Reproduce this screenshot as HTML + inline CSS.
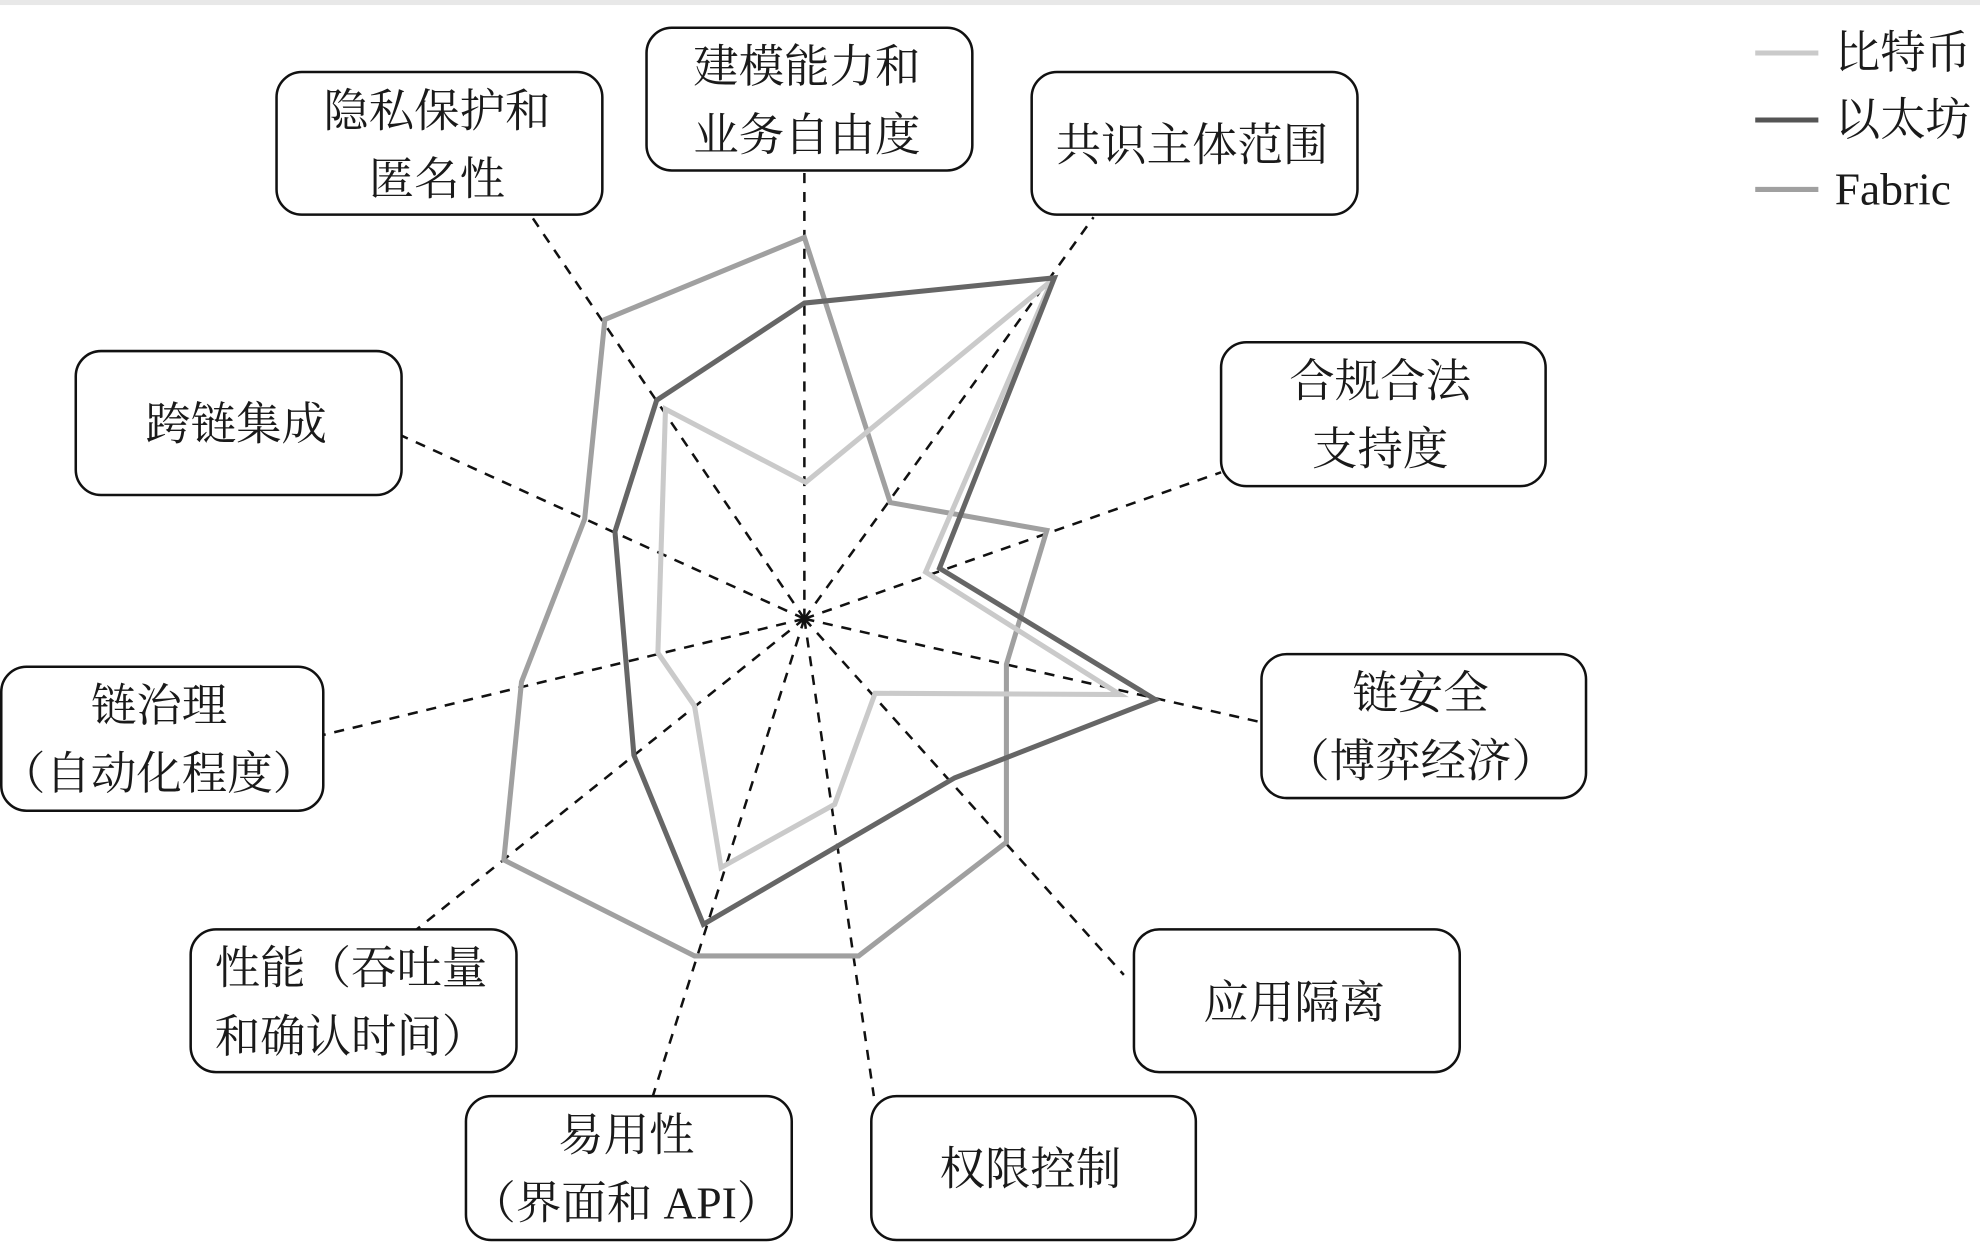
<!DOCTYPE html>
<html><head><meta charset="utf-8"><style>
html,body{margin:0;padding:0;background:#fff;}
svg{display:block;}
text{font-family:"Liberation Serif","Noto Serif CJK SC","Noto Sans CJK SC",serif;font-size:36px;fill:#1a1a1a;text-anchor:middle;}
</style></head><body>
<svg width="1980" height="1248" viewBox="0 0 1568 988.3" preserveAspectRatio="none">
<rect x="0" y="0" width="1568" height="4" fill="#e8e8e8"/>
<g stroke="#111" stroke-width="2" stroke-dasharray="8,7" fill="none">
<line x1="637" y1="490" x2="637" y2="136"/>
<line x1="637" y1="490" x2="866" y2="172"/>
<line x1="637" y1="490" x2="967" y2="374"/>
<line x1="637" y1="490" x2="999" y2="572"/>
<line x1="637" y1="490" x2="890" y2="772"/>
<line x1="637" y1="490" x2="692" y2="868"/>
<line x1="637" y1="490" x2="517" y2="868"/>
<line x1="637" y1="490" x2="330" y2="736"/>
<line x1="637" y1="490" x2="256" y2="582"/>
<line x1="637" y1="490" x2="318" y2="345"/>
<line x1="637" y1="490" x2="420" y2="170"/>
</g>
<g fill="none" stroke-width="4" stroke-linejoin="miter">
<polygon stroke="#a0a0a0" points="637,188 705,398 829,420 797,526 797,667 680,757 550,757 399,681 413,540 463,411 479,253"/>
<polygon stroke="#cacaca" points="638,382 833,222 733,453 887,550 693,549 661,637 571,687 550,559 521,517 527,324"/>
<polygon stroke="#666" points="637,240 835,220 744,450 915,554 756,616 557,732 502,598 487,421 520,317"/>
</g>
<g fill="#fff" stroke="#111" stroke-width="2">
<rect x="512" y="22" width="258" height="113" rx="20"/>
<rect x="817" y="57" width="258" height="113" rx="20"/>
<rect x="967" y="271" width="257" height="114" rx="20"/>
<rect x="999" y="518" width="257" height="114" rx="20"/>
<rect x="898" y="736" width="258" height="113" rx="20"/>
<rect x="690" y="868" width="257" height="114" rx="20"/>
<rect x="369" y="868" width="258" height="114" rx="20"/>
<rect x="151" y="736" width="258" height="113" rx="20"/>
<rect x="1" y="528" width="255" height="114" rx="20"/>
<rect x="60" y="278" width="258" height="114" rx="20"/>
<rect x="219" y="57" width="258" height="113" rx="20"/>
</g>
<text x="639" y="65">建模能力和</text><text x="639" y="119">业务自由度</text>
<text x="944" y="127">共识主体范围</text>
<text x="1093" y="314">合规合法</text><text x="1093" y="368">支持度</text>
<text x="1125" y="561">链安全</text><text x="1125" y="615">（博弈经济）</text>
<text x="1025" y="806">应用隔离</text>
<text x="816" y="938">权限控制</text>
<text x="496" y="911">易用性</text><text x="496" y="965">（界面和 API）</text>
<text x="278" y="779">性能（吞吐量</text><text x="278" y="833">和确认时间）</text>
<text x="126" y="571">链治理</text><text x="126" y="625">（自动化程度）</text>
<text x="187" y="348">跨链集成</text>
<text x="346" y="100">隐私保护和</text><text x="346" y="154">匿名性</text>
<g stroke-width="4">
<line x1="1390" y1="42" x2="1440" y2="42" stroke="#cacaca"/>
<line x1="1390" y1="95" x2="1440" y2="95" stroke="#555"/>
<line x1="1390" y1="150" x2="1440" y2="150" stroke="#a0a0a0"/>
</g>
<text x="1453" y="54" style="text-anchor:start">比特币</text>
<text x="1453" y="107" style="text-anchor:start">以太坊</text>
<text x="1453" y="162" style="text-anchor:start">Fabric</text>
</svg>
</body></html>
